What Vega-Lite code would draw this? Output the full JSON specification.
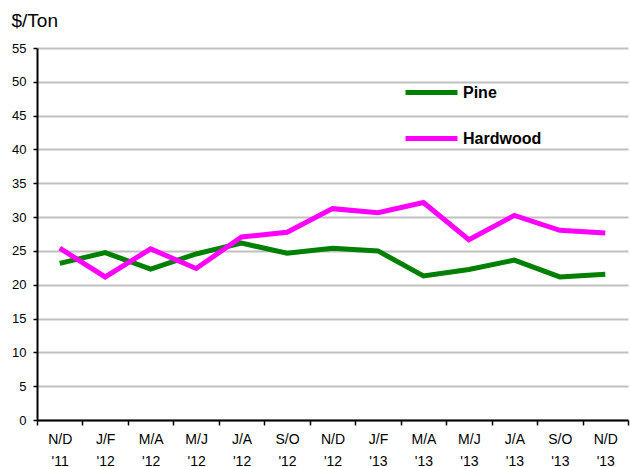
{
  "$schema": "https://vega.github.io/schema/vega-lite/v6.json",
  "autosize": "none",
  "width": 591,
  "height": 372,
  "padding": {"left": 37, "top": 48, "right": 2, "bottom": 47},
  "background": "white",
  "config": {"view": {"stroke": null}, "font": "Liberation Sans"},
  "data": {"values": [
    {"period": "N/D '11", "i": 0, "series": "Pine", "price": 23.15},
    {"period": "J/F '12", "i": 1, "series": "Pine", "price": 24.75},
    {"period": "M/A '12", "i": 2, "series": "Pine", "price": 22.3},
    {"period": "M/J '12", "i": 3, "series": "Pine", "price": 24.55},
    {"period": "J/A '12", "i": 4, "series": "Pine", "price": 26.15},
    {"period": "S/O '12", "i": 5, "series": "Pine", "price": 24.65},
    {"period": "N/D '12", "i": 6, "series": "Pine", "price": 25.4},
    {"period": "J/F '13", "i": 7, "series": "Pine", "price": 25.0},
    {"period": "M/A '13", "i": 8, "series": "Pine", "price": 21.3},
    {"period": "M/J '13", "i": 9, "series": "Pine", "price": 22.25},
    {"period": "J/A '13", "i": 10, "series": "Pine", "price": 23.65},
    {"period": "S/O '13", "i": 11, "series": "Pine", "price": 21.15},
    {"period": "N/D '13", "i": 12, "series": "Pine", "price": 21.55},
    {"period": "N/D '11", "i": 0, "series": "Hardwood", "price": 25.4},
    {"period": "J/F '12", "i": 1, "series": "Hardwood", "price": 21.15},
    {"period": "M/A '12", "i": 2, "series": "Hardwood", "price": 25.3},
    {"period": "M/J '12", "i": 3, "series": "Hardwood", "price": 22.4},
    {"period": "J/A '12", "i": 4, "series": "Hardwood", "price": 27.05},
    {"period": "S/O '12", "i": 5, "series": "Hardwood", "price": 27.75},
    {"period": "N/D '12", "i": 6, "series": "Hardwood", "price": 31.25},
    {"period": "J/F '13", "i": 7, "series": "Hardwood", "price": 30.65},
    {"period": "M/A '13", "i": 8, "series": "Hardwood", "price": 32.15},
    {"period": "M/J '13", "i": 9, "series": "Hardwood", "price": 26.65},
    {"period": "J/A '13", "i": 10, "series": "Hardwood", "price": 30.25},
    {"period": "S/O '13", "i": 11, "series": "Hardwood", "price": 28.05},
    {"period": "N/D '13", "i": 12, "series": "Hardwood", "price": 27.65}
  ]},
  "mark": {"type": "line", "strokeWidth": 5, "strokeJoin": "miter"},
  "encoding": {
    "x": {
      "field": "period", "type": "ordinal", "sort": {"field": "i"},
      "bandPosition": 0.5,
      "scale": {"type": "band", "paddingInner": 0, "paddingOuter": 0},
      "axis": {
        "title": null, "labelAngle": 0, "tickBand": "extent",
        "labelExpr": "split(datum.label, ' ')",
        "labelFontSize": 14, "labelColor": "black", "labelLineHeight": 22,
        "labelPadding": 7, "tickSize": 5, "tickColor": "black", "tickWidth": 1.5,
        "domainColor": "black", "domainWidth": 2, "grid": false
      }
    },
    "y": {
      "field": "price", "type": "quantitative",
      "scale": {"domain": [0, 55], "nice": false},
      "axis": {
        "values": [0, 5, 10, 15, 20, 25, 30, 35, 40, 45, 50, 55],
        "title": "$/Ton", "titleAngle": 0, "titleAlign": "left", "titleBaseline": "middle",
        "titleX": -26, "titleY": -28, "titleFontSize": 19, "titleFontWeight": "normal", "titleColor": "black",
        "labelFontSize": 13, "labelColor": "black", "labelPadding": 7,
        "tickSize": 4, "tickColor": "black", "tickWidth": 1.5,
        "domainColor": "black", "domainWidth": 2,
        "grid": true, "gridColor": "#c0c0c0", "gridWidth": 2
      }
    },
    "color": {
      "field": "series", "type": "nominal",
      "scale": {"domain": ["Pine", "Hardwood"], "range": ["#008000", "#ff00ff"]},
      "legend": {
        "title": null, "orient": "none", "legendX": 366, "legendY": 16,
        "symbolType": "stroke", "symbolSize": 2704, "symbolStrokeWidth": 5,
        "labelFontSize": 16, "labelFontWeight": "bold", "labelColor": "black",
        "labelOffset": 3, "rowPadding": 7
      }
    }
  }
}
